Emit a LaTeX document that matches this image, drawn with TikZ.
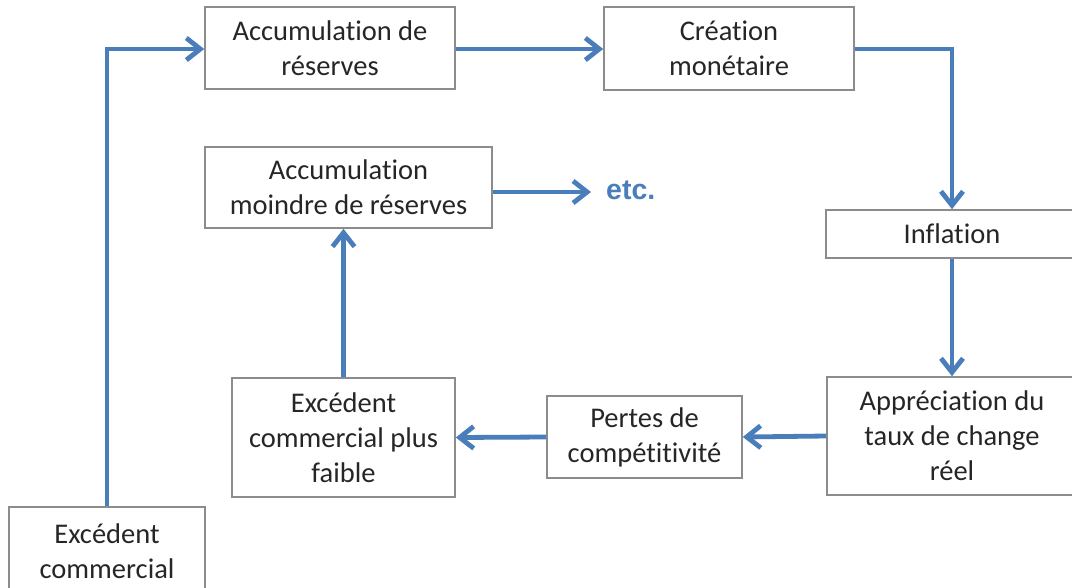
\documentclass[tikz,border=0pt]{standalone}
\usepackage{fontspec}
\setmainfont{Carlito}[Ligatures=NoCommon]
\newfontfamily\etcfont{Liberation Sans}
\usetikzlibrary{arrows.meta}
\definecolor{arrowblue}{HTML}{4A7EBB}
\definecolor{boxgray}{HTML}{8C8C8C}
\definecolor{txt}{HTML}{262626}
\tikzset{
  box/.style={draw=boxgray, line width=1.6pt, fill=white, rectangle, align=center,
    inner sep=0pt, text=txt, font=\fontsize{28.5}{35}\selectfont},
  flow/.style={draw=arrowblue, line width=4.8pt, line join=miter,
    -{Straight Barb[length=14pt,width=22pt]}}
}
\begin{document}
\begin{tikzpicture}[x=1pt,y=-1pt]
\useasboundingbox (0,0) rectangle (1072,587);
\clip (0,0) rectangle (1072,587);
\fill[white] (0,0) rectangle (1072,587);
\node[box, minimum width=250pt, minimum height=82pt] (acc) at (330,48) {Accumulation de\\réserves};
\node[box, minimum width=250pt, minimum height=83pt] (crea) at (729,48.5) {Création\\monétaire};
\node[box, minimum width=287pt, minimum height=81pt] (moin) at (348.5,187.5) {Accumulation\\moindre de réserves};
\node[box, minimum width=252pt, minimum height=48pt] (infl) at (952,234) {Inflation};
\node[box, minimum width=250pt, minimum height=118pt] (appr) at (952,436) {Appréciation du\\taux de change\\réel};
\node[box, minimum width=195pt, minimum height=82pt] (pert) at (644.5,437) {Pertes de\\compétitivité};
\node[box, minimum width=223pt, minimum height=119pt] (faib) at (343.5,437.5) {Excédent\\commercial plus\\faible};
\node[box, minimum width=196pt, minimum height=88pt] (exc) at (107,551) {Excédent\\commercial};
\node[anchor=west, inner sep=0pt, text=arrowblue, font=\etcfont\bfseries\fontsize{28.5}{33}\selectfont] (etc) at (606,190) {etc.};
\coordinate (c1) at (107,49);
\coordinate (c2) at (952,49);
\coordinate (etcin) at (591,192);
\draw[flow] (exc.north) -- (c1) -- (acc.west |- c1);
\draw[flow] (acc.east |- c1) -- (crea.west |- c1);
\draw[flow] (crea.east |- c2) -- (c2) -- (infl.north);
\draw[flow] (infl.south) -- (appr.north);
\draw[flow] (appr.west) -- (pert.east);
\draw[flow] (pert.west) -- (faib.east);
\draw[flow] (faib.north) -- (faib.north |- moin.south);
\draw[flow] (moin.east |- etcin) -- (etcin);
\end{tikzpicture}
\end{document}
